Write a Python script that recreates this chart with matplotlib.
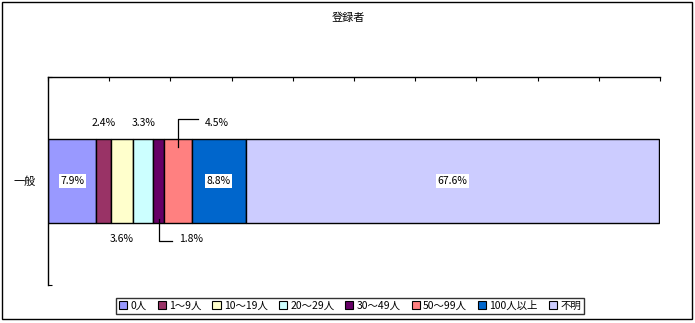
import matplotlib
matplotlib.use("Agg")
import matplotlib.pyplot as plt
from matplotlib.patches import Rectangle
import numpy as np

plt.rcParams['font.family'] = ['Noto Sans CJK JP', 'DejaVu Sans']

title = "登録者"
category = "一般"
series = ["0人", "1～9人", "10～19人", "20～29人", "30～49人", "50～99人", "100人以上", "不明"]
values = [7.9, 2.4, 3.6, 3.3, 1.8, 4.5, 8.8, 67.6]
colors = ["#9999FF", "#993366", "#FFFFCC", "#CCFFFF", "#660066", "#FF8080", "#0066CC", "#CCCCFF"]
xticks = list(range(0, 101, 10))

W, H = 695, 323
fig = plt.figure(figsize=(W / 100, H / 100), dpi=100)

def fx(px):
    return px / W

def fy(py):
    return 1 - py / H

ax = fig.add_axes([fx(48), fy(285), fx(660) - fx(48), fy(77) - fy(285)])

fs = 7.5
lefts = np.concatenate([[0], np.cumsum(values)[:-1]])
bar_h = 0.4
handles = []
for name, v, l, c in zip(series, values, lefts, colors):
    b = ax.barh(0, v, left=l, height=bar_h, color=c, edgecolor="black", linewidth=1.0, label=name)
    handles.append(b)

ax.set_xlim(0, 100)
ax.set_ylim(-0.5, 0.5)

# Axis styling
ax.xaxis.tick_top()
ax.set_xticks(xticks)
ax.set_xticklabels([])
ax.tick_params(axis="x", direction="in", length=3, width=0.8, top=True, bottom=False)
ax.spines["top"].set_linewidth(1.0)
ax.spines["left"].set_linewidth(1.0)
ax.spines["bottom"].set_visible(False)
ax.spines["right"].set_visible(False)
ax.set_yticks([0])
ax.set_yticklabels([category], fontsize=fs + 0.5)
ax.tick_params(axis="y", length=0, pad=9)
ax.set_yticks([-0.5, 0.5], minor=True)
ax.tick_params(axis="y", which="minor", direction="in", length=3, width=0.8)

centers = lefts + np.array(values) / 2
ytop = 0.279
ybot = -0.279
box = dict(facecolor="white", edgecolor="none", pad=1.2)

def lab(i):
    return f"{values[i]:.1f}%"

# inside labels with white boxes
for i in [0, 6, 7]:
    ax.text(centers[i], 0, lab(i), ha="center", va="center", fontsize=fs, bbox=box)

# above labels
for i in [1, 3]:
    ax.text(centers[i], ytop, lab(i), ha="center", va="center", fontsize=fs)
# below labels
ax.text(centers[2], ybot, lab(2), ha="center", va="center", fontsize=fs)

# 4.5% leader
i = 5
ax.plot([centers[i], centers[i], centers[i] + 3.25], [0.163, 0.298, 0.298], color="black", lw=0.9, clip_on=False)
ax.text(centers[i] + 6.3, ytop, lab(i), ha="center", va="center", fontsize=fs)

# 1.8% leader
i = 4
ax.plot([centers[i], centers[i], centers[i] + 2.15], [-0.183, -0.288, -0.288], color="black", lw=0.9, clip_on=False)
ax.text(centers[i] + 5.3, ybot, lab(i), ha="center", va="center", fontsize=fs)

# title
fig.text(fx(348), fy(18), title, ha="center", va="center", fontsize=fs + 0.5)

# legend
leg = fig.legend(handles=handles, labels=series, loc="center", bbox_to_anchor=(fx(350), fy(306)),
                 ncol=8, fontsize=fs, frameon=True, fancybox=False, edgecolor="black",
                 handlelength=0.8, handleheight=0.8, handletextpad=0.3, columnspacing=1.05,
                 borderpad=0.3, borderaxespad=0)
leg.get_frame().set_linewidth(1.0)
for h in leg.legend_handles:
    h.set_linewidth(0.8)

# outer border
fig.patches.append(Rectangle((fx(2), fy(319)), fx(692) - fx(2), fy(2) - fy(319),
                             transform=fig.transFigure, fill=False, edgecolor="black", linewidth=1.0))

fig.savefig("out.png", dpi=100)
